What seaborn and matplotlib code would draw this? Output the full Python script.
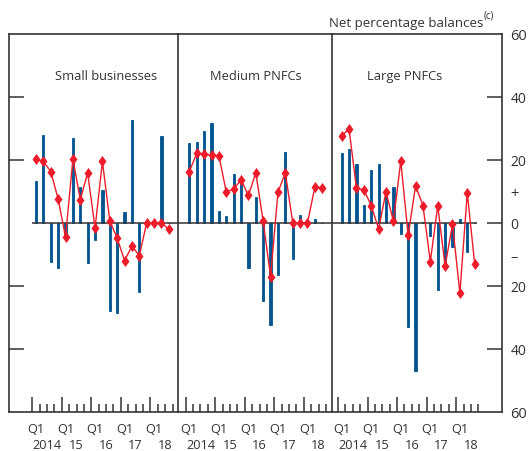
import numpy as np
import pandas as pd
import matplotlib
matplotlib.use("Agg")
import matplotlib.pyplot as plt
import seaborn as sns

# Quarters 2014 Q1 .. 2018 Q3
quarters = list(range(19))
q1_positions = [0, 4, 8, 12, 16]
year_labels = ["2014", "15", "16", "17", "18"]
panel_titles = ["Small businesses", "Medium PNFCs", "Large PNFCs"]

# Bars (blue) and diamonds (red), net percentage balances
small_bars = [13.4, 28, -12.5, -14.5, -4, 27, 11.4, -12.8, -5.6, 10.5, -28.1, -28.5, 3.3, 32.8, -22, 0, 0, 27.6, 0]
small_line = [20.3, 19.5, 16.3, 7.6, -4.5, 20.3, 7.4, 15.9, -1.7, 19.5, 0.6, -4.9, -12, -7.4, -10.4, 0, 0, 0, -2.1]

medium_bars = [25.4, 25.7, 29.2, 31.7, 3.8, 2.2, 15.6, 12.7, -14.5, 8.3, -24.7, -32.3, -16.7, 22.5, -11.6, 2.5, 0, 1.3, 0]
medium_line = [16.3, 22.1, 21.8, 21.5, 21.3, 9.8, 10.7, 13.7, 8.7, 15.9, 0.5, -17.1, 9.7, 15.9, 0, 0, 0, 11.4, 11.2]

large_bars = [22.2, 23.5, 18.7, 5.8, 16.8, 18.7, 8.5, 11.4, -3.7, -33.2, -47.2, 0.4, -4.3, -21.2, -13, -7.7, 1.3, -9.3, 0]
large_line = [27.7, 29.8, 11, 10.5, 5.5, -1.9, 9.9, 0.5, 19.6, -4, 11.8, 5.5, -12.3, 5.5, -13.8, -0.4, -22.3, 9.5, -13]

bar_series = [small_bars, medium_bars, large_bars]
line_series = [small_line, medium_line, large_line]

blue = "#00558f"
red = "#ec1c2a"
dark = "#333333"

sns.set_style("ticks")
plt.rcParams["font.family"] = ["Open Sans", "DejaVu Sans"]

fig = plt.figure(figsize=(5.3, 4.52), dpi=100)

W, H = 530, 452
# panel pixel extents (left, right) and x limits in quarter units
panel_px = [(9, 178), (178, 332), (332, 502)]
xlims = [(-3.66, 19.24), (-1.54, 19.32), (-1.31, 21.7)]
title_x = [9.5, 9.0, 8.5]
ax_bottom = (H - 412.7) / H
ax_height = (412.7 - 35) / H

diamond = [(0, 1), (0.72, 0), (0, -1), (-0.72, 0)]

axes = []
for i in range(3):
    l, r = panel_px[i]
    ax = fig.add_axes([l / W, ax_bottom, (r - l) / W, ax_height])
    axes.append(ax)
    df = pd.DataFrame({"q": quarters, "bar": bar_series[i], "line": line_series[i]})

    sns.barplot(data=df, x="q", y="bar", native_scale=True, color=blue, saturation=1,
                width=0.3, errorbar=None, ax=ax, zorder=2,
                edgecolor=blue, linewidth=0.6)
    sns.lineplot(data=df, x="q", y="line", color=red, linewidth=1.0, marker=diamond,
                 markersize=8, markeredgewidth=0, markerfacecolor=red, ax=ax, zorder=4)

    ax.set_xlim(*xlims[i])
    ax.set_ylim(-60, 60)
    ax.set_xlabel("")
    ax.set_ylabel("")

    for side in ["top", "bottom", "left", "right"]:
        ax.spines[side].set_color(dark)
        ax.spines[side].set_linewidth(1.2)
    if i < 2:
        ax.spines["right"].set_visible(False)

    # zero line
    if i == 0:
        ax.hlines(0, -0.5, xlims[0][1], color=dark, linewidth=1.1, zorder=3)
    elif i == 1:
        ax.axhline(0, color=dark, linewidth=1.1, zorder=3)
    else:
        ax.hlines(0, xlims[2][0], 18.3, color=dark, linewidth=1.1, zorder=3)

    # quarter ticks on bottom
    major = [-0.5, 3.5, 7.5, 11.5, 15.5]
    minor = [b - 0.5 for b in range(20) if (b - 0.5) not in major]
    ax.set_xticks(major)
    ax.set_xticks(minor, minor=True)
    ax.set_xticklabels([])
    ax.tick_params(axis="x", which="major", direction="in", length=11, width=1.1, color=dark)
    ax.tick_params(axis="x", which="minor", direction="in", length=5.5, width=1.1, color=dark)

    tr = ax.get_xaxis_transform()
    for p, yl in zip(q1_positions, year_labels):
        ax.text(p, -0.045, "Q1", transform=tr, ha="center", va="center", fontsize=9.2, color=dark)
        ax.text(p + 1.5, -0.086, yl, transform=tr, ha="center", va="center", fontsize=9.2, color=dark)

    ax.text(title_x[i], 46.8, panel_titles[i], ha="center", va="center", fontsize=9.3, color=dark)

# y ticks: left on first panel, right with labels on last panel
axes[0].set_yticks([-40, -20, 20, 40])
axes[0].set_yticklabels([])
axes[0].tick_params(axis="y", direction="in", length=11, width=1.1, color=dark)
axes[1].set_yticks([])

ax3 = axes[2]
ax3.yaxis.tick_right()
ax3.set_yticks([-40, -20, 0, 20, 40])
ax3.set_yticklabels(["40", "20", "0", "20", "40"])
ax3.set_yticks([-60, -10, 10, 60], minor=True)
ax3.set_yticklabels(["60", "–", "+", "60"], minor=True)
ax3.tick_params(axis="y", which="major", direction="in", length=11, width=1.1, color=dark,
                pad=6, labelsize=10, labelcolor=dark)
ax3.tick_params(axis="y", which="minor", length=0, pad=6, labelsize=10.5, labelcolor=dark)

fig.text(483 / W, 1 - 27 / H, "Net percentage balances", ha="right", va="baseline",
         fontsize=9.5, color=dark)
fig.text(484 / W, 1 - 19 / H, "(c)", ha="left", va="baseline", fontsize=7, color=dark)

fig.savefig("out.png", dpi=100)
